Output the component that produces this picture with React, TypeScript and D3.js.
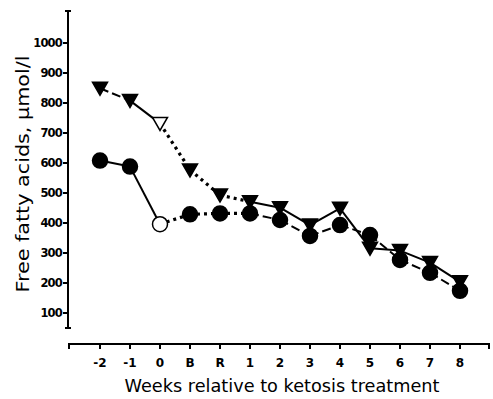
import React from "react";
import * as d3 from "d3";

const categories = ["-2", "-1", "0", "B", "R", "1", "2", "3", "4", "5", "6", "7", "8"];
const circleValues = [608, 588, 396, 429, 432, 432, 410, 357, 393, 360, 277, 234, 174];
const triangleValues = [849, 808, 732, 577, 493, 471, 451, 393, 449, 316, 308, 268, 204];
// style of segment i (from point i to i+1)
const circleSegStyles = ["solid", "solid", "dotted", "dotted", "dotted", "dashed", "dashed", "dashed", "dashed", "dashed", "dashed", "dashed"];
const triangleSegStyles = ["dashed", "solid", "dotted", "dotted", "dotted", "solid", "solid", "solid", "solid", "solid", "solid", "solid"];
const openIndex = 2;
const yTicks = [100, 200, 300, 400, 500, 600, 700, 800, 900, 1000];

const W = 493;
const H = 399;
const FONT = "'DejaVu Sans', sans-serif";

export default function App() {
  const y = d3.scaleLinear().domain([0, 1000]).range([343, 43]);
  const x = d3.scalePoint<string>().domain(categories).range([100, 460]);
  const yAxisX = 68;
  const xAxisY = 344;

  const dashFor = (s: string) => (s === "dotted" ? "3,4" : s === "dashed" ? "9,4" : undefined);
  const widthFor = (s: string) => (s === "dotted" ? 3.2 : 2);

  const segs = (vals: number[], styles: string[], key: string) =>
    styles.map((s, i) => (
      <line
        key={key + i}
        x1={x(categories[i])!}
        y1={y(vals[i])}
        x2={x(categories[i + 1])!}
        y2={y(vals[i + 1])}
        stroke="#000"
        strokeWidth={widthFor(s)}
        strokeDasharray={dashFor(s)}
      />
    ));

  const tri = (cx: number, cy: number) => {
    const p = d3.path();
    p.moveTo(cx - 7.5, cy - 6);
    p.lineTo(cx + 7.5, cy - 6);
    p.lineTo(cx, cy + 7);
    p.closePath();
    return p.toString();
  };

  return (
    <svg width={W} height={H} style={{ position: "absolute", left: 0, top: 0, background: "#fff" }}>
      <rect width={W} height={H} fill="#fff" />
      {/* y axis */}
      <line x1={yAxisX} y1={11} x2={yAxisX} y2={328} stroke="#000" strokeWidth={2} />
      <line x1={yAxisX - 3} y1={11} x2={yAxisX + 3} y2={11} stroke="#000" strokeWidth={2} />
      <line x1={yAxisX - 3} y1={328} x2={yAxisX + 3} y2={328} stroke="#000" strokeWidth={2} />
      {yTicks.map((t) => (
        <g key={t}>
          <line x1={yAxisX - 5} y1={y(t)} x2={yAxisX} y2={y(t)} stroke="#000" strokeWidth={2} />
          <text x={yAxisX - 6} y={y(t)} dy="0.36em" textAnchor="end" fontFamily={FONT} fontSize={11.5} fontWeight="bold" letterSpacing={-0.8}>
            {t}
          </text>
        </g>
      ))}
      {/* x axis */}
      <line x1={68} y1={xAxisY} x2={490} y2={xAxisY} stroke="#000" strokeWidth={2} />
      <line x1={69} y1={xAxisY} x2={69} y2={xAxisY + 5} stroke="#000" strokeWidth={2} />
      <line x1={489} y1={xAxisY} x2={489} y2={xAxisY + 5} stroke="#000" strokeWidth={2} />
      {categories.map((c) => (
        <g key={c}>
          <line x1={x(c)!} y1={xAxisY} x2={x(c)!} y2={xAxisY + 5} stroke="#000" strokeWidth={2} />
          <text x={x(c)!} y={367} textAnchor="middle" fontFamily={FONT} fontSize={12} fontWeight="bold">
            {c}
          </text>
        </g>
      ))}
      <text x={282} y={392} textAnchor="middle" fontFamily={FONT} fontSize={17.5} textLength={315} lengthAdjust="spacingAndGlyphs">
        Weeks relative to ketosis treatment
      </text>
      <text
        transform={`translate(29,174) rotate(-90)`}
        textAnchor="middle"
        fontFamily={FONT}
        fontSize={17.5}
        textLength={237}
        lengthAdjust="spacingAndGlyphs"
      >
        Free fatty acids, µmol/l
      </text>
      {/* lines */}
      {segs(triangleValues, triangleSegStyles, "t")}
      {segs(circleValues, circleSegStyles, "c")}
      {/* markers */}
      {triangleValues.map((v, i) => (
        <path
          key={"tm" + i}
          d={tri(x(categories[i])!, y(v))}
          fill={i === openIndex ? "#fff" : "#000"}
          stroke="#000"
          strokeWidth={1.5}
        />
      ))}
      {circleValues.map((v, i) => (
        <circle
          key={"cm" + i}
          cx={x(categories[i])!}
          cy={y(v)}
          r={7.5}
          fill={i === openIndex ? "#fff" : "#000"}
          stroke="#000"
          strokeWidth={1.5}
        />
      ))}
    </svg>
  );
}
